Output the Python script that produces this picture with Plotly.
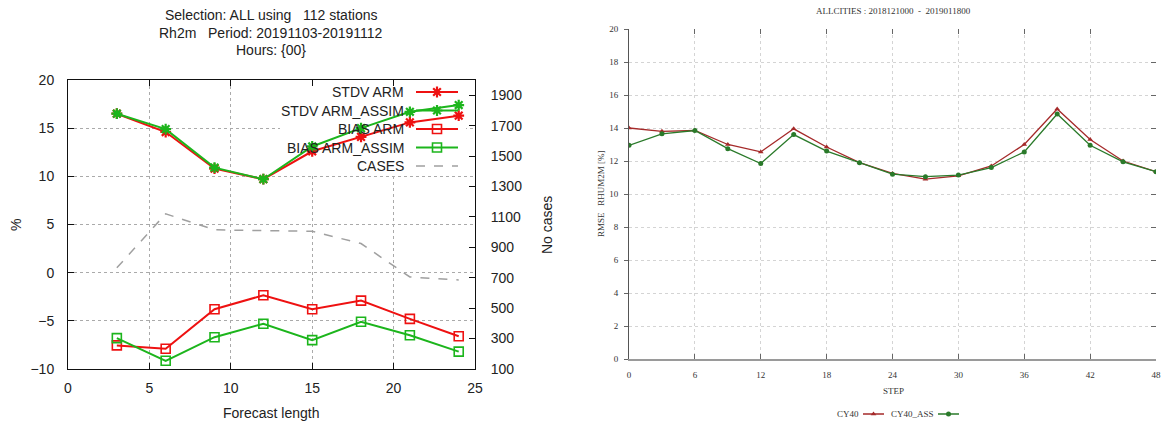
import plotly.graph_objects as go

# ---------------- data: left panel ----------------
forecast_len = [3, 6, 9, 12, 15, 18, 21, 24]
stdv_arm = [16.5, 14.6, 10.8, 9.7, 12.6, 14.1, 15.6, 16.3]
stdv_arm_assim = [16.5, 14.9, 10.9, 9.7, 13.1, 15.0, 16.7, 17.4]
bias_arm = [-7.55, -7.9, -3.8, -2.35, -3.8, -2.9, -4.8, -6.6]
bias_arm_assim = [-6.8, -9.15, -6.7, -5.3, -7.0, -5.1, -6.5, -8.2]
cases = [765, 1120, 1015, 1010, 1005, 925, 705, 685]
left_names = ["STDV ARM", "STDV ARM_ASSIM", "BIAS ARM", "BIAS ARM_ASSIM", "CASES"]
left_title = ["Selection: ALL using   112 stations",
              "Rh2m   Period: 20191103-20191112",
              "Hours: {00}"]

# ---------------- data: right panel ----------------
steps = [0, 3, 6, 9, 12, 15, 18, 21, 24, 27, 30, 33, 36, 39, 42, 45, 48]
cy40 = [14.0, 13.8, 13.85, 13.0, 12.55, 13.95, 12.85, 11.9, 11.25, 10.9,
        11.1, 11.7, 13.0, 15.15, 13.3, 12.0, 11.35]
cy40_ass = [12.95, 13.65, 13.85, 12.75, 11.85, 13.6, 12.6, 11.9, 11.2, 11.05,
            11.15, 11.6, 12.55, 14.85, 12.95, 11.95, 11.35]
right_names = ["CY40", "CY40_ASS"]
right_title = "ALLCITIES : 2018121000  -  2019011800"

# ---------------- layout helpers (pixels) ----------------
W, H = 1161, 425
RED, GREEN, GREY = "#ee1111", "#1cb51c", "#a0a0a0"
DRED, DGREEN = "#a52a2a", "#2a7a2a"
SANS, SERIF = "Liberation Sans", "Liberation Serif"
TXT = "#222222"
L_X0, L_X1, L_Y0, L_Y1 = 68, 475, 80, 369      # left plot box (px)
L_XR, L_YR = [0, 25], [-10, 20]                 # left axis ranges


def dx(a, b):
    return [a / W, b / W]


def dy(top, bottom):
    return [1 - bottom / H, 1 - top / H]


def px_to_lx(p):
    return L_XR[0] + (p - L_X0) / (L_X1 - L_X0) * (L_XR[1] - L_XR[0])


def px_to_ly(p):
    return L_YR[0] + (L_Y1 - p) / (L_Y1 - L_Y0) * (L_YR[1] - L_YR[0])


def open_marker(sym, col, lw):
    return dict(symbol=sym, size=9, color=col, line=dict(color=col, width=lw))


fig = go.Figure()

# left panel series
fig.add_trace(go.Scatter(x=forecast_len, y=stdv_arm, mode="lines+markers",
                         line=dict(color=RED, width=2),
                         marker=open_marker("asterisk-open", RED, 2.2),
                         xaxis="x", yaxis="y", name=left_names[0]))
fig.add_trace(go.Scatter(x=forecast_len, y=stdv_arm_assim, mode="lines+markers",
                         line=dict(color=GREEN, width=2),
                         marker=open_marker("asterisk-open", GREEN, 2.2),
                         xaxis="x", yaxis="y", name=left_names[1]))
fig.add_trace(go.Scatter(x=forecast_len, y=bias_arm, mode="lines+markers",
                         line=dict(color=RED, width=2),
                         marker=open_marker("square-open", RED, 1.6),
                         xaxis="x", yaxis="y", name=left_names[2]))
fig.add_trace(go.Scatter(x=forecast_len, y=bias_arm_assim, mode="lines+markers",
                         line=dict(color=GREEN, width=2),
                         marker=open_marker("square-open", GREEN, 1.6),
                         xaxis="x", yaxis="y", name=left_names[3]))
fig.add_trace(go.Scatter(x=forecast_len, y=cases, mode="lines",
                         line=dict(color=GREY, width=1.5, dash="dash"),
                         xaxis="x", yaxis="y2", name=left_names[4]))

# right panel series
fig.add_trace(go.Scatter(x=steps, y=cy40, mode="lines+markers",
                         line=dict(color=DRED, width=1.3),
                         marker=dict(symbol="triangle-up", size=5, color=DRED),
                         xaxis="x3", yaxis="y3", name=right_names[0]))
fig.add_trace(go.Scatter(x=steps, y=cy40_ass, mode="lines+markers",
                         line=dict(color=DGREEN, width=1.3),
                         marker=dict(symbol="circle", size=5, color=DGREEN),
                         xaxis="x3", yaxis="y3", name=right_names[1]))
# carrier for the mirrored tick axes of the right panel
fig.add_trace(go.Scatter(x=[], y=[], xaxis="x4", yaxis="y4", showlegend=False))

# ---------------- custom legends (gnuplot style: text then sample) -------------
leg_rows = [92, 110.5, 129, 147.5, 166]
leg_styles = [(RED, "asterisk-open", "solid"), (GREEN, "asterisk-open", "solid"),
              (RED, "square-open", "solid"), (GREEN, "square-open", "solid"),
              (GREY, None, "dash")]
annotations = []
for name, row, (col, sym, dash) in zip(left_names, leg_rows, leg_styles):
    fig.add_trace(go.Scatter(x=[416, 458], y=[row, row], mode="lines",
                             line=dict(color=col, width=2 if dash == "solid" else 1.5, dash=dash),
                             xaxis="x5", yaxis="y5", showlegend=False, hoverinfo="skip"))
    if sym:
        fig.add_trace(go.Scatter(x=[437], y=[row], mode="markers",
                                 marker=open_marker(sym, col, 2.2 if "aster" in sym else 1.6),
                                 xaxis="x5", yaxis="y5", showlegend=False, hoverinfo="skip"))
    annotations.append(dict(x=406, y=row, xref="x5", yref="y5", text=name,
                            showarrow=False, xanchor="right", yanchor="middle",
                            font=dict(family=SANS, size=14, color=TXT)))

r_leg = [(861, 863, 884, DRED, "triangle-up"), (936, 938, 959, DGREEN, "circle")]
for name, (tx, a, b, col, sym) in zip(right_names, r_leg):
    fig.add_trace(go.Scatter(x=[a, b], y=[414, 414], mode="lines",
                             line=dict(color=col, width=1.5),
                             xaxis="x5", yaxis="y5", showlegend=False, hoverinfo="skip"))
    fig.add_trace(go.Scatter(x=[(a + b) / 2], y=[414], mode="markers",
                             marker=dict(symbol=sym, size=5, color=col),
                             xaxis="x5", yaxis="y5", showlegend=False, hoverinfo="skip"))
    annotations.append(dict(x=tx, y=414, xref="x5", yref="y5", text=name,
                            showarrow=False, xanchor="right", yanchor="middle",
                            font=dict(family=SERIF, size=9, color="#333")))

# titles / axis titles
for i, line in enumerate(left_title):
    annotations.append(dict(x=271, y=15 + 17.5 * i, xref="x5", yref="y5", text=line,
                            showarrow=False, xanchor="center", yanchor="middle",
                            font=dict(family=SANS, size=14, color=TXT)))
annotations += [
    dict(x=16, y=225, xref="x5", yref="y5", text="%", textangle=-90, showarrow=False,
         font=dict(family=SANS, size=14, color=TXT)),
    dict(x=547, y=225, xref="x5", yref="y5", text="No cases", textangle=-90, showarrow=False,
         font=dict(family=SANS, size=14, color=TXT)),
    dict(x=271, y=413, xref="x5", yref="y5", text="Forecast length", showarrow=False,
         font=dict(family=SANS, size=14, color=TXT)),
    dict(x=893, y=11, xref="x5", yref="y5", text=right_title, showarrow=False,
         font=dict(family=SERIF, size=9, color="#333")),
    dict(x=893, y=391, xref="x5", yref="y5", text="STEP", showarrow=False,
         font=dict(family=SERIF, size=9, color="#333")),
    dict(x=601, y=194, xref="x5", yref="y5", text="RMSE   RHUM2M [%]", textangle=-90,
         showarrow=False, font=dict(family=SERIF, size=9, color="#333")),
]

# opaque key box of the left panel: hides the grid, not the data lines
KEY_L, KEY_R, KEY_T, KEY_B = 280, 466, 83, 173
shapes = [dict(type="rect", xref="x", yref="y", layer="between",
               x0=px_to_lx(KEY_L), x1=px_to_lx(KEY_R),
               y0=px_to_ly(KEY_B), y1=px_to_ly(KEY_T),
               fillcolor="white", line=dict(width=0))]

lfont = dict(family=SANS, size=14, color=TXT)
rfont = dict(family=SERIF, size=9, color="#333")

fig.update_layout(
    template="none",
    width=W, height=H, margin=dict(l=0, r=0, t=0, b=0, autoexpand=False),
    paper_bgcolor="white", plot_bgcolor="rgba(0,0,0,0)", showlegend=False,
    annotations=annotations, shapes=shapes,
    xaxis=dict(domain=dx(L_X0, L_X1), anchor="y", range=L_XR, tick0=0, dtick=5,
               ticks="inside", ticklen=6, tickcolor="#111", mirror="ticks",
               showline=True, linecolor="#111", linewidth=1,
               showgrid=True, gridcolor="#aaaaaa", griddash="dot", gridwidth=1,
               zeroline=False, tickfont=lfont, ticklabelstandoff=6, automargin=False),
    yaxis=dict(domain=dy(L_Y0, L_Y1), anchor="x", range=L_YR, tick0=-10, dtick=5,
               ticks="inside", ticklen=6, tickcolor="#111", mirror=True,
               showline=True, linecolor="#111", linewidth=1,
               showgrid=True, gridcolor="#aaaaaa", griddash="dot", gridwidth=1,
               zeroline=False, tickfont=lfont, ticklabelstandoff=10, automargin=False),
    yaxis2=dict(overlaying="y", side="right", anchor="x", range=[100, 2000],
                tickvals=list(range(100, 2000, 200)), ticks="inside", ticklen=6,
                tickcolor="#111", showline=True, linecolor="#111", showgrid=False,
                zeroline=False, tickfont=lfont, ticklabelstandoff=12, automargin=False),
    xaxis3=dict(domain=dx(629, 1156), anchor="y3", range=[0, 48], tick0=0, dtick=6,
                ticks="inside", ticklen=5, tickcolor="#666",
                showline=True, linecolor="#9a9a9a", linewidth=2,
                showgrid=True, gridcolor="#d4d4d4", griddash="dot", gridwidth=1,
                zeroline=False, tickfont=rfont, ticklabelstandoff=6, automargin=False),
    yaxis3=dict(domain=dy(29, 359), anchor="x3", range=[0, 20], tick0=0, dtick=2,
                ticks="outside", ticklen=4, tickcolor="#666",
                showline=True, linecolor="#555", linewidth=1,
                showgrid=True, gridcolor="#d4d4d4", griddash="dot", gridwidth=1,
                zeroline=False, tickfont=rfont, ticklabelstandoff=4, automargin=False),
    xaxis4=dict(overlaying="x3", anchor="y4", side="top", range=[0, 48], tick0=0, dtick=6,
                ticks="inside", ticklen=5, tickcolor="#666", showticklabels=False,
                showline=False, showgrid=False, zeroline=False, automargin=False),
    yaxis4=dict(overlaying="y3", anchor="x4", side="right", range=[0, 20], tick0=0, dtick=2,
                ticks="inside", ticklen=5, tickcolor="#666", showticklabels=False,
                showline=False, showgrid=False, zeroline=False, automargin=False),
    xaxis5=dict(domain=[0, 1], anchor="y5", range=[0, W], visible=False, fixedrange=True),
    yaxis5=dict(domain=[0, 1], anchor="x5", range=[H, 0], visible=False, fixedrange=True),
)

fig.write_html("out.html", config={"displayModeBar": False},
               post_script="document.body.style.margin='0';document.body.style.overflow='hidden';")
